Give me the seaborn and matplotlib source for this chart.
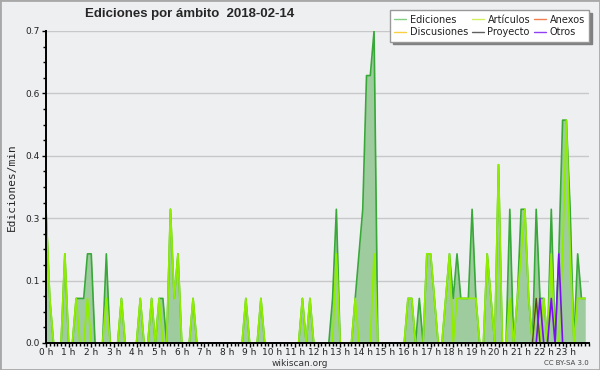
import numpy as np
import pandas as pd
import matplotlib
matplotlib.use("Agg")
import matplotlib.pyplot as plt
import seaborn as sns
from matplotlib.lines import Line2D
from matplotlib.patches import Rectangle
from matplotlib.ticker import FixedLocator, MultipleLocator, FuncFormatter

# ----------------------------------------
# DATA: ediciones/min por tramo de 10 minutos (144 tramos)
# ----------------------------------------

minutos = np.arange(0, 1440, 10)

# una fila = 2 horas
ediciones = [
    0.3, 0.1, 0, 0, 0, 0.2, 0, 0, 0.1, 0.1, 0.1, 0.2,        # 0-2 h
    0.2, 0, 0, 0, 0.2, 0, 0, 0, 0.1, 0, 0, 0,                # 2-4 h
    0, 0.1, 0, 0, 0.1, 0, 0.1, 0.1, 0, 0.3, 0.1, 0.2,        # 4-6 h
    0, 0, 0, 0.1, 0, 0, 0, 0, 0, 0, 0, 0,                    # 6-8 h
    0, 0, 0, 0, 0, 0.1, 0, 0, 0, 0.1, 0, 0,                  # 8-10 h
    0, 0, 0, 0, 0, 0, 0, 0, 0.1, 0, 0.1, 0,                  # 10-12 h
    0, 0, 0, 0, 0.1, 0.3, 0, 0, 0, 0, 0.1, 0.2,              # 12-14 h
    0.3, 0.6, 0.6, 0.7, 0, 0, 0, 0, 0, 0, 0, 0,              # 14-16 h
    0.1, 0.1, 0, 0.1, 0, 0.2, 0.2, 0.1, 0, 0, 0.1, 0.2,      # 16-18 h
    0.1, 0.2, 0.1, 0.1, 0.1, 0.3, 0.1, 0, 0, 0.2, 0.1, 0,    # 18-20 h
    0.4, 0, 0, 0.3, 0, 0.1, 0.3, 0.3, 0.1, 0, 0.3, 0.1,      # 20-22 h
    0.1, 0, 0.3, 0, 0.2, 0.5, 0.5, 0.3, 0, 0.2, 0.1, 0.1,    # 22-24 h
]

articulos = [
    0.3, 0.1, 0, 0, 0, 0.2, 0, 0, 0.1, 0, 0, 0.1,
    0, 0, 0, 0, 0.1, 0, 0, 0, 0.1, 0, 0, 0,
    0, 0.1, 0, 0, 0.1, 0, 0.1, 0, 0, 0.3, 0.1, 0.2,
    0, 0, 0, 0.1, 0, 0, 0, 0, 0, 0, 0, 0,
    0, 0, 0, 0, 0, 0.1, 0, 0, 0, 0.1, 0, 0,
    0, 0, 0, 0, 0, 0, 0, 0, 0.1, 0, 0.1, 0,
    0, 0, 0, 0, 0, 0.2, 0, 0, 0, 0, 0.1, 0,
    0, 0, 0, 0.2, 0, 0, 0, 0, 0, 0, 0, 0,
    0.1, 0.1, 0, 0, 0, 0.2, 0.2, 0.1, 0, 0, 0.1, 0.2,
    0, 0.1, 0.1, 0.1, 0.1, 0.1, 0.1, 0, 0, 0.2, 0.1, 0,
    0.4, 0, 0, 0.1, 0, 0.1, 0.2, 0.3, 0.1, 0, 0.1, 0,
    0.1, 0, 0.2, 0, 0, 0.2, 0.5, 0.2, 0, 0.1, 0.1, 0.1,
]

# series con muy pocas ediciones: {tramo: valor}
proyecto = {130: 0.1}
otros = {131: 0.1, 134: 0.1, 136: 0.2}

series_leyenda = ["Ediciones", "Discusiones", "Artículos", "Proyecto", "Anexos", "Otros"]
colores_leyenda = ["#80d080", "#f8d040", "#d0f060", "#606060", "#f08050", "#9040f0"]

df = pd.DataFrame({"hora": minutos / 60, "Ediciones": ediciones, "Artículos": articulos})
df["Proyecto"] = [proyecto.get(i, 0) for i in range(len(minutos))]
df["Otros"] = [otros.get(i, 0) for i in range(len(minutos))]

# ----------------------------------------
# PLOT
# ----------------------------------------

sns.set_theme(style="white")
plt.rcParams["font.family"] = ["DejaVu Sans"]

bg = "#eeeff1"
fig = plt.figure(figsize=(6, 3.7), dpi=100, facecolor=bg)
ax = fig.add_axes([46 / 600, 27 / 370, 543 / 600, 312 / 370])
ax.set_facecolor(bg)

ax.fill_between(df["hora"], df["Ediciones"], color="#9fcc9f", lw=0, zorder=1)
sns.lineplot(data=df, x="hora", y="Ediciones", color="#38a838", lw=1.2, ax=ax, zorder=2)
sns.lineplot(data=df, x="hora", y="Artículos", color="#8fee00", lw=1.3, ax=ax, zorder=2)
sns.lineplot(data=df, x="hora", y="Proyecto", color="#5a4a20", lw=1.0, ax=ax, zorder=2)
sns.lineplot(data=df, x="hora", y="Otros", color="#7a10f0", lw=1.2, ax=ax, zorder=2)

ymax = max(ediciones)
ax.set_xlim(0, 24)
ax.set_ylim(0, ymax)

ax.yaxis.set_major_locator(FixedLocator(np.linspace(0, ymax, 6)))
ax.yaxis.set_minor_locator(MultipleLocator(ymax / 20))
ax.yaxis.set_major_formatter(FuncFormatter(lambda v, p: f"{v:.1f}"))
ax.xaxis.set_major_locator(FixedLocator(range(24)))
ax.xaxis.set_minor_locator(MultipleLocator(1 / 6))
ax.xaxis.set_major_formatter(FuncFormatter(lambda v, p: f"{int(round(v))} h"))

ax.yaxis.grid(True, color="#c8c8c8", lw=1)
ax.set_axisbelow(True)

for s in ["top", "right"]:
    ax.spines[s].set_visible(False)
for s in ["left", "bottom"]:
    ax.spines[s].set_color("black")
    ax.spines[s].set_linewidth(1.4)
    ax.spines[s].set_zorder(5)

ax.tick_params(axis="both", which="major", direction="out", length=3, width=1,
               color="black", labelsize=6.5, pad=1.5, labelcolor="#222")
ax.tick_params(axis="x", which="major", pad=0.3)
ax.tick_params(axis="both", which="minor", direction="out", length=2.5, width=1, color="black")
ax.tick_params(axis="y", which="both", left=True)
ax.tick_params(axis="x", which="both", bottom=True)

ax.set_xlabel("")
ax.set_ylabel("Ediciones/min", family="DejaVu Sans Mono", fontsize=8, labelpad=6)

fig.text(85 / 600, 1 - 14 / 370, "Ediciones por ámbito  2018-02-14",
         fontsize=9.5, fontweight="bold", family="Liberation Sans", va="center", ha="left")
fig.text(300 / 600, 1 - 363 / 370, "wikiscan.org", fontsize=6.5, color="#333",
         ha="center", va="center")
fig.text(589 / 600, 1 - 363 / 370, "CC BY-SA 3.0", fontsize=5, color="#444",
         ha="right", va="center")

handles = [Line2D([0], [0], color=c, lw=1) for c in colores_leyenda]
fig.legend(handles, series_leyenda, ncol=3, loc="upper right",
           bbox_to_anchor=(0.99, 0.985), fontsize=7, frameon=True, fancybox=False,
           shadow={"color": "#808080", "alpha": 1.0}, edgecolor="#999999",
           facecolor="white", framealpha=1, handlelength=1.2, handletextpad=0.4,
           columnspacing=0.4, labelspacing=0.25, borderpad=0.45, labelcolor="#222")

fig.patches.append(Rectangle((0, 0), 1, 1, transform=fig.transFigure, fill=False,
                             edgecolor="#a8a8a8", lw=2))

fig.savefig("out.png", dpi=100, facecolor=bg)
